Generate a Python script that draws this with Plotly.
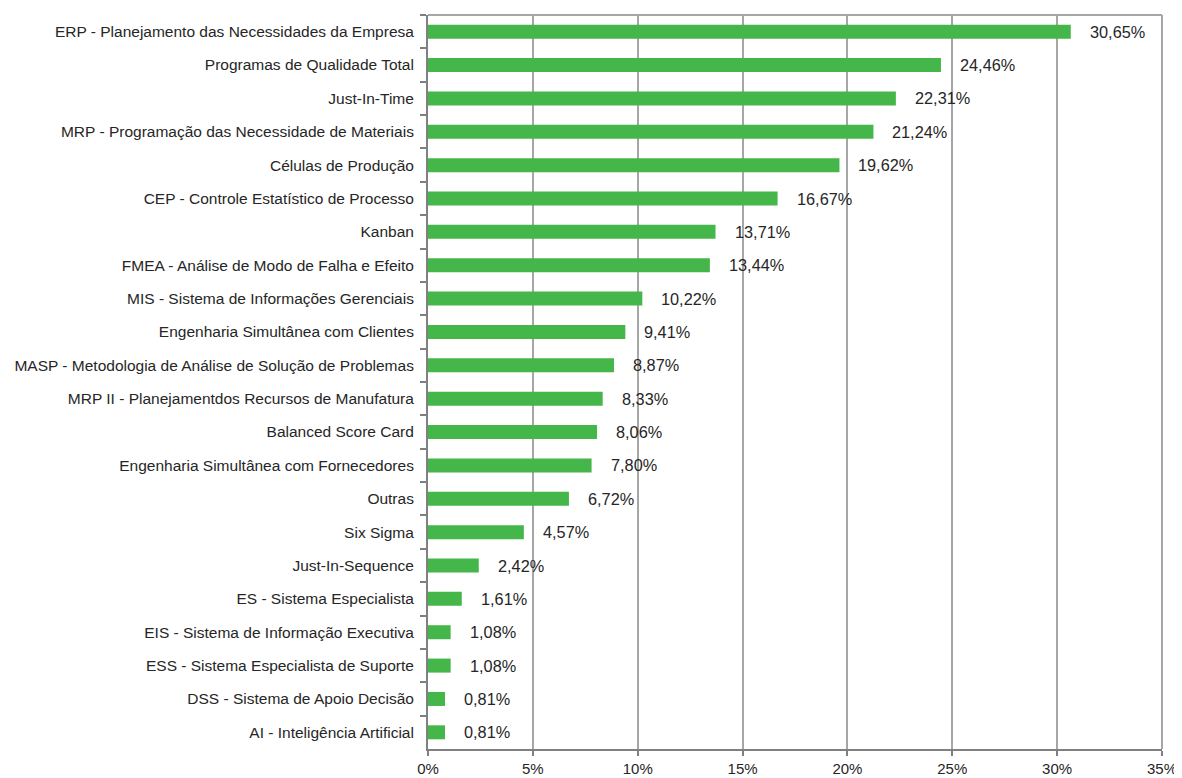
import plotly.graph_objects as go

categories = [
    "ERP - Planejamento das Necessidades da Empresa",
    "Programas de Qualidade Total",
    "Just-In-Time",
    "MRP - Programação das Necessidade de Materiais",
    "Células de Produção",
    "CEP - Controle Estatístico de Processo",
    "Kanban",
    "FMEA - Análise de Modo de Falha e Efeito",
    "MIS - Sistema de Informações Gerenciais",
    "Engenharia Simultânea com Clientes",
    "MASP - Metodologia de Análise de Solução de Problemas",
    "MRP II - Planejamentdos Recursos de Manufatura",
    "Balanced Score Card",
    "Engenharia Simultânea com Fornecedores",
    "Outras",
    "Six Sigma",
    "Just-In-Sequence",
    "ES - Sistema Especialista",
    "EIS - Sistema de Informação Executiva",
    "ESS - Sistema Especialista de Suporte",
    "DSS - Sistema de Apoio Decisão",
    "AI - Inteligência Artificial",
]
values = [30.65, 24.46, 22.31, 21.24, 19.62, 16.67, 13.71, 13.44, 10.22, 9.41,
          8.87, 8.33, 8.06, 7.80, 6.72, 4.57, 2.42, 1.61, 1.08, 1.08, 0.81, 0.81]
labels = [f"{v:.2f}%".replace(".", ",") for v in values]
tick_vals = [0, 5, 10, 15, 20, 25, 30, 35]
tick_text = [f"{t}%" for t in tick_vals]

FONT = "Liberation Sans, Arial, sans-serif"
FS = 15.5

fig = go.Figure(go.Bar(
    x=values, y=categories, orientation="h",
    marker=dict(color="#45B649", line=dict(width=0)),
    width=0.42, cliponaxis=False,
))

for v, c, t in zip(values, categories, labels):
    fig.add_annotation(x=v, y=c, text=t, showarrow=False, xanchor="left",
                       xshift=17, font=dict(family=FONT, size=16.3, color="#262626"))

# page body has an 8px margin, so the figure is sized to fit the window
fig.update_layout(
    width=1174, height=770,
    margin=dict(l=420, r=20, t=7, b=29),
    plot_bgcolor="white", paper_bgcolor="white",
    font=dict(family=FONT, size=FS, color="#262626"),
    showlegend=False,
)
fig.update_xaxes(
    range=[0, 35], tickvals=tick_vals, ticktext=tick_text,
    showgrid=True, gridcolor="#A6A6A6", gridwidth=2,
    showline=True, linecolor="#808080", linewidth=2, mirror=False,
    ticks="outside", ticklen=5, tickcolor="#808080", tickwidth=2,
    zeroline=False, automargin=False, tickfont=dict(size=15),
)
fig.update_yaxes(
    categoryorder="array", categoryarray=categories, autorange="reversed",
    showline=True, linecolor="#808080", linewidth=2,
    ticks="outside", ticklen=6, tickcolor="#808080", tickwidth=2,
    tickson="boundaries", showgrid=False, ticklabelstandoff=9,
    automargin=False,
)
fig.add_shape(type="line", xref="paper", yref="paper", x0=0, x1=1, y0=1, y1=1,
              line=dict(color="#A6A6A6", width=2))
fig.add_shape(type="line", xref="paper", yref="paper", x0=1, x1=1, y0=0, y1=1,
              line=dict(color="#A6A6A6", width=2))

fig.write_html("out.html")
